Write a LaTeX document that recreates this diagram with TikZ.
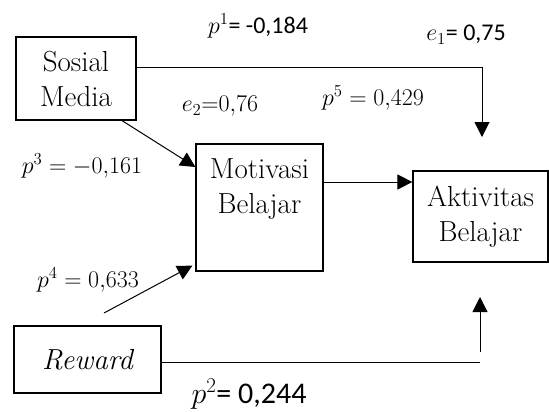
\RequirePackage{fix-cm}
\documentclass[tikz,border=0pt]{standalone}
\usepackage{fontspec}
\newfontfamily\calfont{Carlito}
\usetikzlibrary{arrows.meta,positioning}

\begin{document}
\begin{tikzpicture}[x=1pt,y=-1pt,>={Triangle[length=15pt,width=15pt]},line width=1pt]
	\tikzstyle{box}=[draw,line width=1.2pt,inner sep=0pt,align=center,font=\fontsize{29}{35}\selectfont]
	\tikzstyle{coef}=[inner sep=0pt,font=\fontsize{24}{28}\selectfont]

	\useasboundingbox (0,0) rectangle (549,412);

	\node[box,minimum width=120pt,minimum height=83pt] (SM) at (76,78.5) {Sosial\\Media};
	\node[box,minimum width=127pt,minimum height=127pt] (MB) at (259.5,207.5) {};
	\node[inner sep=0pt,align=center,font=\fontsize{29}{35}\selectfont] (MBtext) [below = 15pt of MB.north] {Motivasi\\Belajar};
	\node[box,minimum width=135pt,minimum height=91pt] (AB) at (480.5,216.5) {Aktivitas\\Belajar};
	\node[box,minimum width=147pt,minimum height=67pt,font=\fontsize{29}{35}\selectfont\itshape] (RW) at (87.5,359.5) {Reward};

	\coordinate (t1) at (482,137);
	\coordinate (m1) at ([yshift=25.5pt]MB.east);
	\coordinate (q1) at (104,313);
	\coordinate (r1) at (480,362);
	\coordinate (u1) at (480,352);
	\coordinate (u2) at (480,297);

	\draw[->] ([yshift=10.5pt]SM.east) -| (t1);
	\draw[->] ([xshift=46pt]SM.south) -- ([yshift=40.5pt]MB.west);
	\draw[->] (m1) -- (m1 -| AB.west);
	\draw[->] (q1) -- ([shift={(-3pt,6pt)}]MB.south west);
	\draw (RW.east |- r1) -- (r1);
	\draw[->] (u1) -- (u2);

	\node[coef] (p1) at (258,26) {$p^1$\calfont= -0,184};
	\node[coef] (e1) at (466,35) {$e_1$\calfont= 0,75};
	\node[coef] (e2) at (220,106) {$e_2{=}0{,}76$};
	\node[coef] (p5) at (373,98) {$p^5 = 0{,}429$};
	\node[coef] (p3) at (82,166) {$p^3 = -0{,}161$};
	\node[coef] (p4) at (88,280) {$p^4 = 0{,}633$};
	\node[coef,font=\fontsize{30}{34}\selectfont] (p2) at (249,394) {$p^2$\calfont= 0,244};
\end{tikzpicture}
\end{document}
